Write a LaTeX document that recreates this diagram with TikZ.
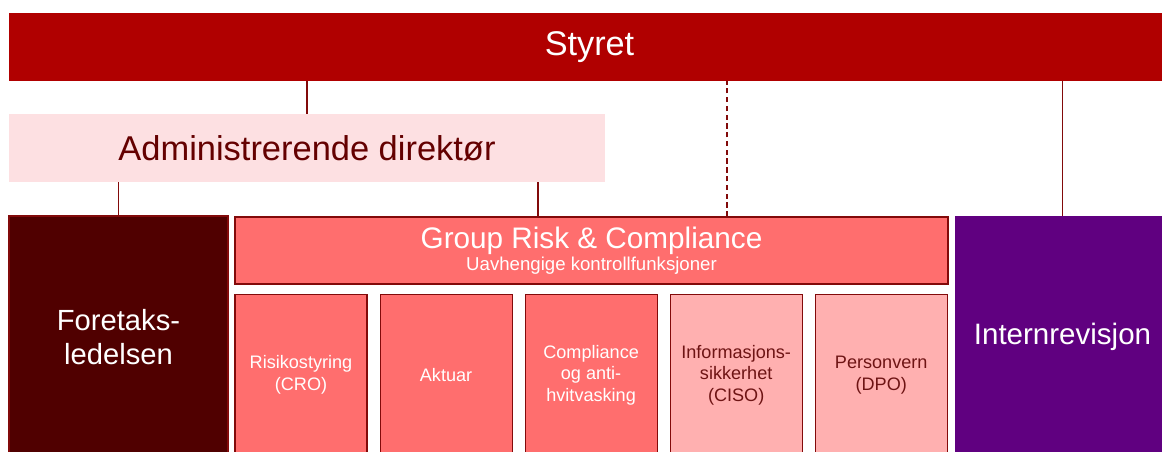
\documentclass[tikz,border=0pt]{standalone}
\usepackage{fontspec}
\setmainfont{Liberation Sans}
\usetikzlibrary{positioning}
\definecolor{orgboard}  {RGB}{176,0,0}
\definecolor{orgceo}    {RGB}{253,224,226}
\definecolor{orgceotext}{RGB}{100,0,0}
\definecolor{orgmgmt}   {RGB}{80,0,0}
\definecolor{orgctrl}   {RGB}{255,110,110}
\definecolor{orgsoft}   {RGB}{255,176,176}
\definecolor{orgsofttext}{RGB}{110,20,20}
\definecolor{orgaudit}  {RGB}{96,0,128}
\definecolor{orgline}   {RGB}{130,10,10}

\tikzset{
  link/.style={draw=orgline, line width=0.7pt},
  unitbox/.style={draw=orgline, line width=0.6pt, inner sep=0pt,
    minimum width=2.64cm, minimum height=3.24cm, align=center,
    font=\fontsize{10.3}{12.3}\selectfont},
}

\begin{document}
\begin{tikzpicture}
            \useasboundingbox (0,0) rectangle (23.24,-9.04);
            \clip (0,0) rectangle (23.24,-9.04);

            % board
            \node (styret)
              [fill=orgboard, text=white,
               inner sep=0pt,
               minimum width=23.22cm, minimum height=1.36cm,
               font=\fontsize{19.5}{22}\selectfont]
              at (11.79,-0.94) {Styret};

            % ceo
            \node (admin)
              [fill=orgceo, text=orgceotext,
               inner sep=0pt,
               minimum width=11.92cm, minimum height=1.36cm,
               font=\fontsize{19.6}{22}\selectfont]
              at (6.14,-2.96) {Administrerende direktør};

            % management
            \node (foretak)
              [fill=orgmgmt, draw=orgline, line width=0.6pt,
               text=white, align=center,
               inner sep=0pt,
               minimum width=4.38cm, minimum height=4.84cm,
               font=\fontsize{16.6}{19.3}\selectfont]
              at (2.37,-6.74) {Foretaks-\\ledelsen};

            % control functions
            \node (group)
              [fill=orgctrl, draw=orgline, line width=0.6pt,
               text=white, align=center,
               inner sep=0pt,
               minimum width=14.26cm, minimum height=1.34cm,
               font=\fontsize{16.9}{14}\selectfont]
              at (11.83,-5.01)
              {\raisebox{-1.6pt}{Group Risk \& Compliance}\\
               \fontsize{10.6}{14}\selectfont Uavhengige kontrollfunksjoner};

            \node (cro)
              [below=0.18cm of group.south west, anchor=north west,
               unitbox, fill=orgctrl, text=white]
              {Risikostyring\\(CRO)};
            \node (aktuar)
              [right=0.24cm of cro,
               unitbox, fill=orgctrl, text=white]
              {Aktuar};
            \node (aml)
              [right=0.24cm of aktuar,
               unitbox, fill=orgctrl, text=white]
              {Compliance\\og anti-\\hvitvasking};
            \node (ciso)
              [right=0.24cm of aml,
               unitbox, fill=orgsoft, text=orgsofttext]
              {Informasjons-\\sikkerhet\\(CISO)};
            \node (dpo)
              [right=0.24cm of ciso,
               unitbox, fill=orgsoft, text=orgsofttext]
              {Personvern\\(DPO)};

            % internal audit
            \node (intern)
              [fill=orgaudit, text=white,
               inner sep=0pt,
               minimum width=4.3cm, minimum height=4.84cm,
               font=\fontsize{16.8}{19}\selectfont]
              at (21.25,-6.74) {Internrevisjon};

            % edges
            \coordinate (ceoLink) at ([xshift=-1.07cm]group.north);
            \coordinate (boardLink) at ([xshift=2.71cm]group.north);
            \path [link]
              (admin.north) edge (admin.north |- styret.south)
              (foretak.north) edge (foretak.north |- admin.south)
              (ceoLink) edge (ceoLink |- admin.south)
              (intern.north) edge (intern.north |- styret.south)
              ;
            \draw [link, dash pattern=on 3pt off 2pt]
              (boardLink) -- (boardLink |- styret.south);
        \end{tikzpicture}
\end{document}
